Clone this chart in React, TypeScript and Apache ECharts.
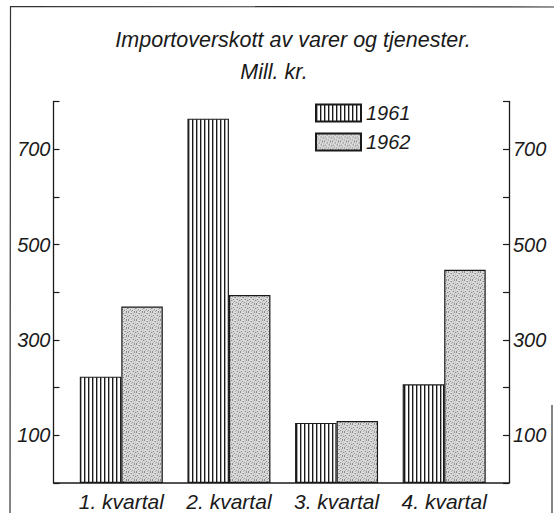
import React, { useEffect, useRef } from "react";
import * as echarts from "echarts";

// ---- data ----
const categories = ["1. kvartal", "2. kvartal", "3. kvartal", "4. kvartal"];
const seriesNames = ["1961", "1962"];
const values1961 = [223, 764, 126, 207];
const values1962 = [370, 394, 130, 447];
const yLabelValues = [100, 300, 500, 700];
const titleLine1 = "Importoverskott av varer og tjenester.";
const titleLine2 = "Mill. kr.";

// ---- layout ----
const W = 554;
const H = 513;
const GRID_LEFT = 67.5;
const GRID_RIGHT = 56;
const GRID_TOP = 101.5;
const GRID_BOTTOM = 30;
const LEFT_AXIS_X = 53.5;
const RIGHT_AXIS_X = 509;
const FONT = '"Liberation Sans", Arial, sans-serif';
const INK = "#1a1a1a";

function makeStripes(): HTMLCanvasElement {
  const c = document.createElement("canvas");
  c.width = 4;
  c.height = 4;
  const g = c.getContext("2d")!;
  g.fillStyle = "#ffffff";
  g.fillRect(0, 0, 4, 4);
  g.fillStyle = "#1a1a1a";
  g.fillRect(0, 0, 1, 4);
  g.fillStyle = "#a8a8a8";
  g.fillRect(1, 0, 1, 4);
  return c;
}

// fixed irregular speckle layout for the stippled screen texture
const SPECKLE_DARK: [number, number][] = [
  [0, 0], [3, 1], [6, 0], [1, 3], [5, 3], [2, 5], [7, 4], [4, 6], [0, 7], [6, 7],
];
const SPECKLE_MID: [number, number][] = [
  [2, 1], [7, 2], [4, 3], [0, 4], [3, 7], [6, 5], [1, 6], [5, 1],
];

function makeStipple(): HTMLCanvasElement {
  const c = document.createElement("canvas");
  c.width = 8;
  c.height = 8;
  const g = c.getContext("2d")!;
  g.fillStyle = "#dadada";
  g.fillRect(0, 0, 8, 8);
  g.fillStyle = "#8a8a8a";
  SPECKLE_DARK.forEach(([x, y]) => g.fillRect(x, y, 1, 1));
  g.fillStyle = "#b2b2b2";
  SPECKLE_MID.forEach(([x, y]) => g.fillRect(x, y, 1, 1));
  return c;
}

export default function App() {
  const ref = useRef<HTMLDivElement>(null);

  useEffect(() => {
    if (!ref.current) return;
    const chart = echarts.init(ref.current, null, { renderer: "svg" });
    const stripes = { image: makeStripes(), repeat: "repeat" } as any;
    const stipple = { image: makeStipple(), repeat: "repeat" } as any;

    const yAxisCommon = (pos: "left" | "right", offset: number, margin: number) => ({
      type: "value",
      position: pos,
      offset,
      min: 0,
      max: 800,
      interval: 100,
      axisLine: { show: true, lineStyle: { color: INK, width: 1.3 } },
      axisTick: { show: true, inside: true, length: 6, lineStyle: { color: INK, width: 1.2 } },
      axisLabel: {
        margin,
        formatter: (v: number) => (yLabelValues.includes(v) ? String(v) : ""),
        fontFamily: FONT,
        fontStyle: "italic",
        fontSize: 20,
        color: INK,
      },
      splitLine: { show: false },
    });

    const textStyle = (text: string) => ({
      text,
      align: "center",
      verticalAlign: "middle",
      fontFamily: FONT,
      fontStyle: "italic",
      fontSize: 21.5,
      fill: INK,
    });

    const option: any = {
      animation: false,
      backgroundColor: "#ffffff",
      grid: { left: GRID_LEFT, right: GRID_RIGHT, top: GRID_TOP, bottom: GRID_BOTTOM, containLabel: false },
      legend: {
        orient: "vertical",
        left: 315,
        top: 103,
        padding: 0,
        itemWidth: 45,
        itemHeight: 17,
        itemGap: 9,
        icon: "rect",
        textStyle: { fontFamily: FONT, fontStyle: "italic", fontSize: 20, color: INK },
        data: seriesNames,
      },
      xAxis: {
        type: "category",
        data: categories,
        axisLine: { show: false },
        axisTick: { show: false },
        axisLabel: {
          interval: 0,
          hideOverlap: false,
          margin: 8,
          fontFamily: FONT,
          fontStyle: "italic",
          fontSize: 21,
          color: INK,
        },
      },
      yAxis: [
        yAxisCommon("left", GRID_LEFT - LEFT_AXIS_X, 3),
        yAxisCommon("right", RIGHT_AXIS_X - (W - GRID_RIGHT), 4),
      ],
      series: [
        {
          name: seriesNames[0],
          type: "bar",
          data: values1961,
          barWidth: 41.5,
          barGap: "0%",
          itemStyle: { color: stripes, borderColor: INK, borderWidth: 1.2 },
        },
        {
          name: seriesNames[1],
          type: "bar",
          data: values1962,
          barWidth: 41.5,
          barGap: "0%",
          itemStyle: { color: stipple, borderColor: INK, borderWidth: 1.2 },
        },
      ],
      graphic: [
        {
          type: "polyline",
          shape: { points: [[10, H + 5], [10.5, 6.5], [W + 2, 7]] },
          style: { fill: "none", stroke: "#333", lineWidth: 1.2 },
          silent: true,
        },
        {
          type: "line",
          shape: { x1: 552, y1: 405, x2: 552, y2: H + 5 },
          style: { stroke: "#333", lineWidth: 1.2 },
          silent: true,
        },
        {
          type: "line",
          shape: { x1: LEFT_AXIS_X, y1: H - GRID_BOTTOM, x2: RIGHT_AXIS_X, y2: H - GRID_BOTTOM },
          style: { stroke: INK, lineWidth: 1.4 },
          silent: true,
          z: 10,
        },
        { type: "text", x: 293, y: 40, style: textStyle(titleLine1) },
        { type: "text", x: 274, y: 72, style: textStyle(titleLine2) },
      ],
    };

    chart.setOption(option);
    return () => chart.dispose();
  }, []);

  return (
    <div
      ref={ref}
      style={{ position: "fixed", left: 0, top: 0, width: W, height: H, background: "#fff" }}
    />
  );
}
